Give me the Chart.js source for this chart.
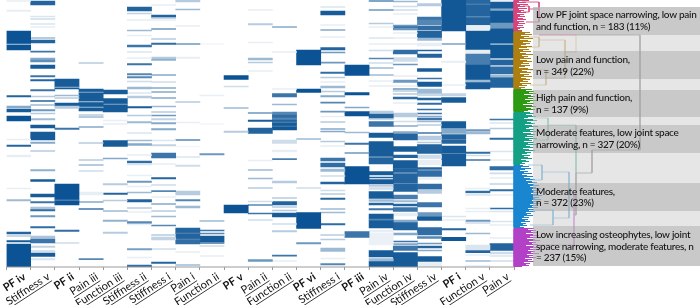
<!DOCTYPE html>
<html><head><meta charset="utf-8">
<style>html,body{margin:0;padding:0;background:#fff}#w{width:700px;height:305px}canvas{display:block}</style>
<script src="https://cdn.jsdelivr.net/npm/chart.js@4/dist/chart.umd.min.js"></script>
</head><body><div id="w"><canvas id="c"></canvas></div>
<script>
// Each band: [first row bin, last row bin, response value 0..1]; rows run top to bottom (1605 patients in 267 bins)
const pfIv=[[0.5,1.5,.1],[10,11.5,.1],[31,44,1],[44,45,.3],[45,50,1],[95.5,97,.9],[106,108,.5],[109,112,.95],[116,121,1],[139,140,.1],[145,146.5,.9],[155,157,.1],[188,189,.1],[199.5,201,.4],[232,234,.9],[235.5,236.5,.3],[240.5,242,.95],[244,267,1]];
const stiffnessV=[[1,5,.9],[16,17,.15],[18.5,19.5,.2],[23.5,24.5,.15],[26.5,27.5,.1],[37.5,38.5,.4],[40,43,.9],[51,52.2,.8],[58,60,.5],[60,62,.65],[65,68.5,.95],[75.5,77,.8],[79.5,81,.9],[89.5,91,.8],[96,97,.3],[100.5,101.5,.9],[104.5,105.5,.4],[109.5,110.8,.6],[113,114,.3],[118.5,120,.4],[125,128,.95],[132,140,.95],[142,143.5,.5],[150.5,151.5,.3],[169.5,171,.45],[179.5,181.5,.95],[194,197,.95],[201.5,203,.8],[207,209.5,.35],[209.5,211,.85],[215.5,216.8,.6],[226.5,227.8,.85],[236,238.5,.35],[239,243,.8],[246,247.5,.25],[250.5,252,.2],[253,256.5,.95],[258.5,260,.15]];
const pfII=[[79,87,.95],[87,88,.4],[88,89,.95],[95,96,.4],[97.5,98.5,.3],[103,106,.95],[106,108.5,.3],[128,129.5,.8],[184,200,1],[200,200.8,.5],[200.8,205,1],[230,231.5,.85],[242.5,243.5,.2]];
const painIII=[[62.5,63.5,.3],[89,91.7,.95],[92,93,.5],[93,101.5,.95],[101.5,102.5,.4],[102.5,107,.95],[107,108,.4],[108,111,.95],[114.5,115.5,.3],[116.5,117.5,.4],[126.5,127.5,.5],[142.5,143.5,.3],[159.5,160.5,.3],[164.5,165.5,.4],[170.5,171.5,.2],[192,195,.1],[201.5,202.5,.5],[208.5,209.5,.8],[258.5,259.7,.7]];
const functionIII=[[90,94,.95],[98.5,104,.95],[104,105,.5],[105,112,.95],[120,121,.1],[123.5,124.5,.1],[140.5,146.5,.95],[158,159,.5],[183.5,185,.3],[193,194.5,.9],[200,201,.3],[210.5,211.5,.4],[220,221.5,.45],[232,233.5,.3]];
const stiffnessII=[[7,11,.9],[13,14,.25],[19.5,20.5,.1],[30,31,.4],[35,36,.1],[45,47,.8],[51.5,52.5,.15],[57.5,58.5,.1],[63.5,65,.8],[73.5,75,.7],[76.5,78,.7],[81,82,.2],[87,89,.4],[92.5,93.5,.15],[96,98,.3],[106.5,108,.95],[115,116,.3],[121.5,123,.4],[132.5,133.5,.15],[140,141,.4],[143.5,145.5,.5],[154.5,155.5,.1],[161,163,.85],[164,165,.15],[175,176,.1],[181,182.5,.6],[186,187,.1],[192,193,.4],[199.5,202,.9],[207.5,208.5,.3],[211.5,212.5,.1],[221.5,223.5,.7],[224,225,.1],[248.5,250,.55],[257,258,.1],[265,267,.85]];
const stiffnessIa=[[4.5,5.5,.1],[15,17.5,.9],[17.5,18.5,.3],[19.5,20.5,.1],[28.5,29.5,.6],[38.5,39.5,.3],[43,44.5,.85],[57,59,.3],[59,60.5,.45],[74.5,75.5,.5],[81.5,82.5,.2],[87.5,88.5,.5],[91.5,92.5,.5],[97.5,98.5,.5],[106,107,.4],[111.5,112.5,.3],[115,116,.6],[118.5,120,.25],[122.5,124,.5],[128.5,129.8,.5],[140,141,.15],[144.5,145.8,.25],[153,158,.8],[163.5,164.5,.1],[177.5,179,.9],[184.5,185.5,.2],[190.5,191.7,.7],[196.5,197.5,.1],[203.5,204.5,.5],[210.5,211.5,.3],[216,217,.4],[225,226,.7],[234.5,235.5,.3],[237,240,.25],[248.5,249.5,.2],[262,263.5,.9]];
const painI=[[0,2,.3],[9,10,.4],[25.5,26.5,.1],[43.5,44.5,.6],[57,58.5,.1],[101.5,102.5,.3],[122,123,.1],[139.5,140.5,.7],[146,147,.05],[156.5,157.5,.15],[165,166.5,.2],[191,195,.3],[199.5,201,.7],[206,208,.4],[228,233,.9],[233,234,.7],[234,239,.9],[239,240,.7],[240,244,.85],[251.5,252.5,.1],[264.5,265.5,.4]];
const functionIIa=[[43.5,44.5,.05],[95,96,.1],[123.5,124.5,.05],[153.5,155,.6],[220.5,221.5,.4],[230,231,.8],[233,234,.7],[236,242,.95],[242.5,243.5,.8],[245.5,246.5,.2],[255.5,256.5,.1]];
const pfV=[[75.5,79.5,1],[86,87,.2],[107.5,108.5,.4],[131,132.5,.3],[205,213,1]];
const painII=[[9.5,10.5,.1],[23.5,25,.3],[42,43,.1],[58,60,.4],[62,63,.3],[70.5,71.5,.1],[112.5,113.5,.6],[120,121.5,.95],[128,133.5,.9],[160,161,.1],[169.5,170.5,.4],[178,179,.4],[187.5,188.5,.3],[201,202,.2],[204.5,205.5,.7],[213,214,.8],[219.5,220.5,.2],[259.5,261.5,.6]];
const functionIIb=[[26.5,27.5,.5],[51.5,52.5,.1],[88.5,89.5,.1],[93.5,97,.8],[104,105,.4],[112,115,.7],[115,118,.85],[118,120,.7],[120,122,.9],[122,123,.7],[123,126,.95],[126,127,.75],[127,130,.97],[140,143.5,.2],[150,152,.1],[158.5,159.7,.75],[181,183,.3],[197.5,198.5,.3],[201.5,205,.9],[206.5,207.5,.3],[210,211,.3],[213,217,.95],[223.5,224.5,.2],[230.5,232,.3],[255,256.2,.8],[260.5,261.5,.1]];
const pfVI=[[50,65,1],[89,92.3,1],[138.5,139.5,.4],[187.5,188.5,.2],[212.5,228.5,1],[242.5,244,.6]];
const stiffnessIb=[[6.5,7.5,.15],[11,15,.95],[24.5,25.5,.1],[29.5,30.5,.5],[36.5,37.5,.1],[47.5,50,.9],[52,53,.6],[62,63.2,.6],[72,73.3,.85],[77,78,.3],[81.5,82.5,.1],[86,88,.4],[91,92,.3],[95.5,96.8,.5],[102,103.2,.7],[111,112.2,.6],[116,117,.1],[121.5,122.5,.3],[128.5,129.5,.5],[131,132,.5],[141,142,.3],[145.5,146.5,.1],[158,161,.8],[163,167,.85],[169,171.5,.4],[175.5,176.5,.2],[182,184,.9],[190,191,.2],[193.5,194.5,.3],[198,199.5,.9],[208.5,209.5,.4],[212,213,.4],[223.5,225,.85],[234.5,235.5,.3],[239,240,.3],[248,251.5,.4],[258,259,.1],[263.5,265,.7]];
const pfIII=[[65,75.5,1],[92.5,95,1],[107,108,.5],[111.5,116,1],[132,133,.4],[143,144.5,.8],[152.5,153.5,.6],[166.5,184,1],[231.5,237.5,.8]];
const painIV=[[0.5,1.5,.7],[9.5,10.5,.6],[23,24,.3],[26.5,27.5,.1],[37.5,38.5,.15],[43.5,44.5,.1],[50,51,.2],[58,59,.7],[62.5,63.5,.2],[67.5,68.5,.4],[74.5,75.5,.4],[80.5,81.5,.1],[85.5,86.5,.1],[111,113.5,.3],[114,118.5,.9],[118.5,119.5,.3],[121.5,126.5,.8],[133,137.5,.95],[141.5,156.5,.95],[157.5,164,.9],[171.5,175,.95],[177,178,.9],[179.5,184,.95],[184.5,186.5,.3],[187.5,189.5,.2],[191.5,198.5,.95],[199.5,201.5,.4],[203,205,.9],[208.5,210,.8],[214,219,.95],[219,220.5,.7],[220.5,228,.95],[230,232,.1],[233,245,.08],[250.5,257,.95],[258.5,261.5,.4],[261.5,267,.95]];
const functionIV=[[1,2,.4],[6,7,.2],[9.5,10.5,.2],[13.5,14.5,.1],[25,26.5,.6],[26.5,28,.85],[28,30,.6],[32.5,33.5,.1],[37.5,38.5,.1],[43.5,44.5,.1],[50,54,.85],[57.5,61.5,.2],[64,65,.6],[75.5,76.5,.1],[80,82.5,.6],[85.5,86.5,.1],[88.5,89.5,.6],[90.5,91.5,.3],[93.5,94.5,.3],[97,99,.85],[102.5,103.5,.1],[113,117,.3],[121,122,.2],[125.5,126.5,.5],[131.5,134,.5],[134,140,.9],[146.5,151.5,.95],[155,157.7,.9],[160.5,168.3,.95],[168.5,172.5,.9],[173.5,182.7,.9],[183.5,191.5,.9],[195,199,.75],[200.5,202,.4],[204,206,.9],[207.5,211.5,.8],[213,216,.1],[220,222.5,.5],[222.5,230,.9],[233,235,.5],[241,242,.8],[243.5,245,.5],[246,250.5,.8],[252.5,262,.95],[262,267,.95]];
const stiffnessIV=[[3.5,6,.3],[17,20,.8],[20,25,.7],[26,30,.85],[31,38,.9],[38,40.5,.4],[43,46,.1],[50,51,.9],[54,57.5,.9],[68.5,71.5,.95],[78,79,.8],[82,86.5,.95],[89,93.5,.4],[94.5,95.5,.3],[98,100,.9],[103,104.5,.85],[109,110,.85],[113,114,.8],[116,117,.5],[118,120,.8],[121,122,.4],[124.5,125.5,.3],[132.5,133.5,.8],[136,140,.3],[142,143,.3],[144.5,153.5,.9],[155,158.5,.2],[160,165,.1],[167.5,169.5,.9],[170.5,176.5,.85],[177.5,179.5,.1],[184,189.5,.85],[189.5,193.3,.3],[202.5,207,.8],[212.5,216,.6],[216.5,220.5,.95],[227.5,235,.85],[236.5,238.5,.7],[243,244,.6],[246,248,.9],[250,251,.5],[256.5,261.5,.95],[262.5,267,.1]];
const pfI=[[0,31,.97],[43.5,44.5,.55],[61,62.5,.1],[84.5,85.5,.1],[93.5,96,.25],[97.5,102.5,.95],[121.5,128.5,.95],[128.5,133.5,.5],[134.5,139.5,.9],[140,143.3,.9],[146,152.7,.95],[153.5,166,.95],[216,217,.15],[219.5,220.5,.1],[228.5,230,.9],[237.3,240.7,.97]];
const functionV=[[0,4,.88],[4,5,.7],[5,16.5,.9],[16.5,17.5,.7],[17.5,25,.9],[25.5,30,.1],[31,50,.97],[50,54,.1],[54,65,.75],[65,80,.97],[80,82.5,.4],[82.5,89,.95],[129.5,131,.6],[131.5,134,.4],[152,153.5,.85],[155,156,.2],[159.5,160.5,.8],[188,189,.1],[191,192.7,.85],[193.5,195.5,.15],[208,209,.1],[211,212,.1],[220,221.5,.6],[222.5,223.5,.2],[233,234,.4],[245,250,.15],[250.7,252.7,.9],[254.5,255.5,.1],[260.5,261.5,.4],[265.5,266.5,.1]];
const painV=[[0,1,.1],[2,8.5,.95],[9.3,10.7,.5],[11,23,.97],[23,28,.6],[28.5,43.5,.97],[44,45,.3],[45,58.5,.97],[58.5,59.5,.3],[60,65,.9],[65.5,66.5,.4],[67,74,.85],[75,76.7,.4],[77.5,87.5,.9],[119,120,.8],[122.5,123.5,.15],[128,129,.3],[138,139.5,.85],[151,152,.15],[159.5,160.5,.1],[166.5,170,.85],[172.8,173.8,.2],[177.5,178.5,.1],[183.5,184.5,.25],[189.5,191,.85],[194.5,195.5,.1],[208,209,.85],[211,212,.15],[221,222,.15],[224.5,225.5,.1],[237.5,238.5,.1],[243.5,250.5,.9],[252,254,.2],[255.5,256.5,.15],[260.5,261.5,.2]];

const columnLabels=['PF iv','Stiffness v','PF ii','Pain iii','Function iii','Stiffness ii','Stiffness i','Pain i','Function ii','PF v','Pain ii','Function ii','PF vi','Stiffness i','PF iii','Pain iv','Function iv','Stiffness iv','PF i','Function v','Pain v'];
const columnBands=[pfIv,stiffnessV,pfII,painIII,functionIII,stiffnessII,stiffnessIa,painI,functionIIa,pfV,painII,functionIIb,pfVI,stiffnessIb,pfIII,painIV,functionIV,stiffnessIV,pfI,functionV,painV];

// Dendrogram: leaf heights, one per row bin, per cluster
const pinkStart=0, pinkLeaves=[15,5,12,3,14,6,11,4,13,5,10,7,12,3,10,6,11,4,9,12,3,10,5,11,4,9,3,10,6,4,8];
const goldStart=31, goldLeaves=[8,16,11,18,7,15,10,19,6,14,17,9,16,12,7,18,13,5,15,9,17,6,12,19,8,14,10,17,6,13,18,9,15,7,16,11,5,14,19,8,13,17,6,15,10,18,7,12,16,9,14,6,17,8,13,5,11,7];
const greenStart=89, greenLeaves=[18,12,20,15,22,10,17,21,14,19,11,23,16,13,20,9,18,22,12,17,21,14,10];
const tealStart=112, tealLeaves=[16,20,12,18,22,14,10,19,23,13,17,21,11,18,24,15,12,20,16,22,9,17,21,13,19,11,23,15,18,10,20,14,22,12,16,19,9,15,21,11,17,13,8,16,10,14,18,7,12,15,8,11,6];
const blueStart=165, blueLeaves=[9,15,7,17,11,6,14,10,18,8,13,19,10,16,21,12,18,23,14,20,25,16,22,27,18,24,20,26,17,23,28,19,25,21,27,18,24,20,26,16,22,18,24,14,20,15,21,12,17,13,19,10,15,8,14,11,16,7,12,9,13,6,10];
const purpleStart=228, purpleLeaves=[20,14,22,17,24,12,19,25,16,23,13,21,26,15,22,18,24,12,20,27,16,23,14,21,17,25,13,19,15,22,11,18,14,20,10,16,12,15,8];
// Dendrogram joins as [height,row] paths
const pinkLinks=[[[8,2],[25,2],[25,22],[12,22]],[[9,6],[15,6],[15,12],[9,12]],[[15,9],[25,9]],[[25,35],[62,35]]];
const goldLinks=[[[14,37],[25,37],[25,47],[14,47]],[[25,40],[51,40],[51,78],[32,78]],[[16,70],[32,70],[32,85],[16,85]],[[51,52],[62,52],[62,35]]];
const greyLinks=[[[62,35],[126,35],[126,150],[78,150],[78,173],[62,173],[62,215],[60,215]]];
const tealLinks=[[[62,125],[62,173]],[[34,125],[62,125]],[[20,118],[34,118],[34,140],[20,140]]];
const blueLinks=[[[28,172],[55,172],[55,218],[39,218]],[[14,165],[28,165],[28,180],[14,180]],[[16,210],[39,210],[39,225],[16,225]],[[55,195],[60,195]]];
const purpleLinks=[[[60,195],[60,245],[25,245]]];

// Cluster annotation bands: [first bin, last bin, shade]
const bandRows=[[7,35,'d'],[35,51,'l'],[51,79,'d'],[79,90,'l'],[90,117,'d'],[117,125,'l'],[125,153,'d'],[153,183,'l'],[183,211,'d'],[211,226,'l'],[226,266,'d']];
const noteLines=[[15,'Low PF joint space narrowing, low pain'],[27,'and function, n = 183 (11%)'],[60,'Low pain and function,'],[72,'n = 349 (22%)'],[98,'High pain and function,'],[110,'n = 137 (9%)'],[133,'Moderate features, low joint space'],[145,'narrowing, n = 327 (20%)'],[192,'Moderate features,'],[203,'n = 372 (23%)'],[235,'Low increasing osteophytes, low joint'],[247,'space narrowing, moderate features, n'],[258,'= 237 (15%)']];

const shade=v=>`rgb(${Math.round(255-v*244)},${Math.round(255-v*172)},${Math.round(255-v*107)})`;
const barSets=columnBands.map((bands,i)=>({type:'bar',xAxisID:'x',yAxisID:'y',
  data:bands.map(b=>({x:i,y:[b[0],b[1]],v:b[2]})),
  backgroundColor:c=>shade(c.raw?c.raw.v:0),borderWidth:0,barPercentage:1,categoryPercentage:1,grouped:false,order:2}));
const pathSet=(pts,color,w)=>({type:'scatter',xAxisID:'xH',yAxisID:'y',showLine:true,pointRadius:0,borderColor:color,borderWidth:w,tension:0,
  data:pts.map(p=>({x:p[0],y:p[1]})),order:1});
const combPath=(start,leaves)=>{const p=[];leaves.forEach((d,i)=>{p.push([0,start+i+.5],[d,start+i+.5],[0,start+i+.5]);});return p;};
const clusterSets=[
 [pinkStart,pinkLeaves,pinkLinks,'#d6447e','rgba(214,68,126,.85)'],[goldStart,goldLeaves,goldLinks,'#ad7f10','rgba(173,127,16,.4)'],[greenStart,greenLeaves,[],'#2e9912','rgba(46,153,18,.4)'],
 [tealStart,tealLeaves,tealLinks,'#14a085','rgba(20,160,133,.4)'],[blueStart,blueLeaves,blueLinks,'#1a86cf','rgba(26,134,207,.45)'],[purpleStart,purpleLeaves,purpleLinks,'#b341c8','rgba(179,65,200,.45)']
].flatMap(([s,l,k,col,lk])=>[pathSet(combPath(s,l),col,1),...k.map(q=>pathSet(q,lk,1))]);
const greySets=greyLinks.map(q=>pathSet(q,'rgba(130,130,130,.7)',1));
const axisLine={type:'scatter',xAxisID:'x',yAxisID:'y',showLine:true,pointRadius:0,borderColor:'#9a9a9a',borderWidth:1,clip:false,order:0,
  data:[{x:-.5,y:267},{x:20.5,y:267}]};

const overlay={id:'overlay',
 afterDatasetsDraw(ch){
  const {ctx,chartArea:a}=ch,yS=ch.scales.y,xH=ch.scales.xH;
  ctx.save();
  const left=xH.getPixelForValue(19);
  bandRows.forEach(b=>{
    ctx.fillStyle=b[2]==='d'?'rgba(178,178,178,.7)':'rgba(205,205,205,.5)';
    const t=yS.getPixelForValue(b[0]),u=yS.getPixelForValue(b[1]);
    ctx.fillRect(left,t,a.right-left,u-t);
  });
  ctx.fillStyle='#151515';ctx.font='500 10px Lato';ctx.letterSpacing='-0.28px';ctx.textBaseline='middle';ctx.textAlign='left';
  noteLines.forEach(n=>ctx.fillText(n[1],xH.getPixelForValue(22),yS.getPixelForValue(n[0])));
  ctx.restore();
 },
 afterDraw(ch){
  const ctx=ch.ctx,s=ch.scales.x;
  ctx.save();ctx.strokeStyle='#222';ctx.lineWidth=.8;
  s.getLabelItems(ch.chartArea).forEach(it=>{
    if(String(it.label).startsWith('PF'))return;
    const o=it.options;ctx.font=it.font.string;const w=ctx.measureText(it.label).width;
    ctx.save();ctx.translate(o.translation[0],o.translation[1]);ctx.rotate(o.rotation);
    const yy=it.textOffset+it.font.size*.55;
    ctx.beginPath();ctx.moveTo(-w,yy);ctx.lineTo(0,yy);ctx.stroke();ctx.restore();
  });
  ctx.restore();
 }};

new Chart(document.getElementById('c'),{
 data:{datasets:[...barSets,...clusterSets,...greySets,axisLine]},
 plugins:[overlay],
 options:{responsive:true,maintainAspectRatio:false,animation:false,events:[],
  layout:{padding:{left:6.5,right:0,top:0,bottom:0}},
  plugins:{legend:{display:false},tooltip:{enabled:false},title:{display:false}},
  scales:{
   x:{type:'linear',position:'bottom',min:-.5,max:28.19,offset:false,
     afterBuildTicks:s=>{s.ticks=columnLabels.map((_,i)=>({value:i}));},
     afterFit:s=>{s.height=38;s.paddingLeft=0;s.paddingRight=0;},
     border:{display:false},
     grid:{drawOnChartArea:false,drawTicks:true,tickLength:3,color:'#9a9a9a'},
     ticks:{autoSkip:false,minRotation:33,maxRotation:33,padding:0,labelOffset:6,color:'#111',
       callback:v=>columnLabels[v],
       font:c=>{const l=columnLabels[c.index]||'';return l.startsWith('PF')?{family:'Lato',size:11,weight:'bold'}:{family:'Lato',size:11,weight:'normal'};}}},
   xH:{type:'linear',position:'top',display:false,min:-507.5,max:186},
   y:{type:'linear',display:false,reverse:true,min:0,max:267}
  }}});
</script></body></html>
